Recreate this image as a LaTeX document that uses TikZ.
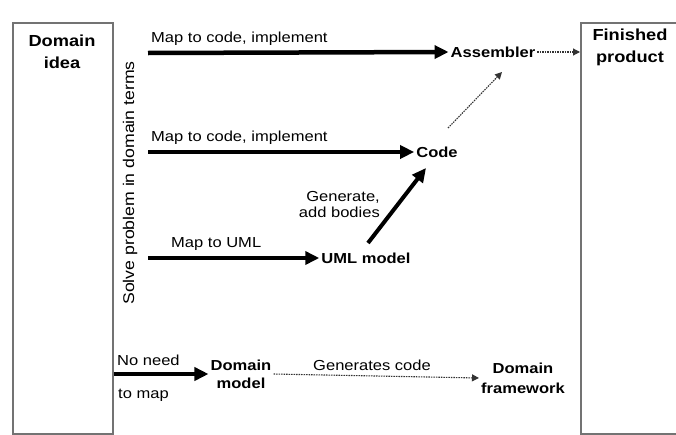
\documentclass[tikz,border=0pt]{standalone}
\usepackage{fontspec}
\setmainfont[FakeStretch=1.14]{Liberation Sans}
\usetikzlibrary{arrows.meta}
\begin{document}
\begin{tikzpicture}[x=1pt,y=-1pt,
  frame/.style={draw=black!55, line width=1.6pt, inner sep=0pt},
  title/.style={font=\fontsize{16}{22}\selectfont\bfseries, align=center, inner sep=0pt},
  stage/.style={font=\fontsize{14.5}{18}\selectfont\bfseries, align=center, inner sep=2pt},
  lbl/.style={font=\fontsize{14.5}{16}\selectfont, inner sep=0pt},
  heavy/.style={line width=4.5pt, -{Triangle[length=14pt,width=13pt]}},
  light/.style={draw=black!80, line width=1.1pt, dash pattern=on 1.5pt off 1pt,
                -{Triangle[length=7pt,width=7pt]}}
]
\useasboundingbox (0,0) rectangle (676,434);
\fill[white] (0,0) rectangle (676,434);

% the two column frames
\node[frame, minimum width=100pt, minimum height=411pt, anchor=north west] (idea) at (12,22) {};
\node[frame, minimum width=106pt, minimum height=411pt, anchor=north west] (fin) at (580,22) {};
\node[title] (ideatxt) at (62,52) {Domain\\idea};
\node[title] (fintxt) at (630,47) {Finished\\product};

% vertical caption
\node[lbl, font=\fontsize{15.5}{18}\selectfont, rotate=90] (solve) at (130,183) {Solve problem in domain terms};

% intermediate results
\node[stage] (asm)  at (493,52)  {Assembler};
\node[stage] (code) at (437,152) {Code};
\node[stage] (uml)  at (366,258) {UML model};
\node[stage, font=\fontsize{14.5}{18}\selectfont\bfseries] (dm) at (241,374) {Domain\\model};
\node[stage, font=\fontsize{14.5}{20}\selectfont\bfseries] (df) at (523,378) {Domain\\framework};

% start points of the mapping arrows
\coordinate (s1) at (148,53);
\coordinate (s2) at (148,152);
\coordinate (s3) at (148,258);
\coordinate (g0) at (368,243);
\coordinate (g1) at (426,168);
\coordinate (c0) at (448,128);
\coordinate (c1) at (502,72);

\draw[heavy] (s1) -- (asm.west);
\draw[heavy] (s2) -- (code.west);
\draw[heavy] (s3) -- (uml.west);
\draw[heavy, line width=4pt] (g0) -- (g1);
\draw[heavy] (idea.east |- dm) -- (dm.west);

\draw[light] (c0) -- (c1);
\draw[light] (asm.east) -- (asm.east -| fin.west);
\draw[light] (dm.east) -- (df.west);

% arrow labels
\node[lbl, anchor=base west] (l1) at (151,42) {Map to code, implement};
\node[lbl, anchor=base west] (l2) at (151,141) {Map to code, implement};
\node[lbl, anchor=base west] (l3) at (171,247) {Map to UML};
\node[lbl, align=right, anchor=east] (l4) at (380,205) {Generate,\\add bodies};
\node[lbl, anchor=base west] (l5) at (117,365) {No need};
\node[lbl, anchor=base west] (l6) at (118,398) {to map};
\node[lbl, anchor=base west] (l7) at (313,370) {Generates code};
\end{tikzpicture}
\end{document}
